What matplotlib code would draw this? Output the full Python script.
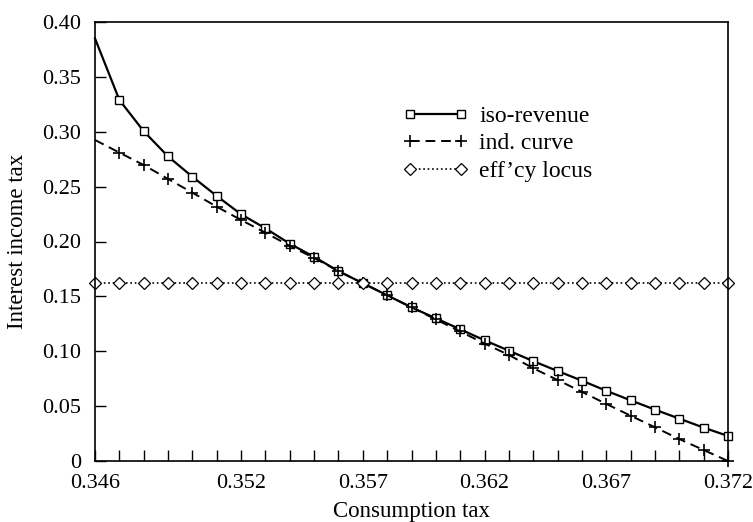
import numpy as np
import matplotlib
matplotlib.use("Agg")
import matplotlib.pyplot as plt

plt.rcParams['font.family'] = ['Liberation Serif', 'DejaVu Serif']

# consumption tax grid (0.346 .. 0.372 step 0.001)
cons_tax = [0.346, 0.347, 0.348, 0.349, 0.350, 0.351, 0.352, 0.353, 0.354,
            0.355, 0.356, 0.357, 0.358, 0.359, 0.360, 0.361, 0.362, 0.363,
            0.364, 0.365, 0.366, 0.367, 0.368, 0.369, 0.370, 0.371, 0.372]

iso_revenue = [0.385, 0.329, 0.3005, 0.2775, 0.259, 0.2415, 0.2248, 0.212, 0.198,
               0.186, 0.173, 0.162, 0.151, 0.140, 0.130, 0.120, 0.110, 0.1005,
               0.091, 0.082, 0.0732, 0.064, 0.0553, 0.0468, 0.0386, 0.0304, 0.0228]

ind_curve = [0.2925, 0.281, 0.2697, 0.257, 0.2445, 0.2317, 0.2196, 0.208, 0.196,
             0.185, 0.173, 0.162, 0.151, 0.140, 0.129, 0.118, 0.107, 0.0966,
             0.0845, 0.0738, 0.063, 0.052, 0.0413, 0.0307, 0.020, 0.010, 0.0]

effcy_locus = [0.162] * len(cons_tax)

x_labels = {0.346: '0.346', 0.352: '0.352', 0.357: '0.357',
            0.362: '0.362', 0.367: '0.367', 0.372: '0.372'}
y_ticks = [0, 0.05, 0.10, 0.15, 0.20, 0.25, 0.30, 0.35, 0.40]
y_labels = ['0', '0.05', '0.10', '0.15', '0.20', '0.25', '0.30', '0.35', '0.40']

fig = plt.figure(figsize=(7.53, 5.22), dpi=100)
ax = fig.add_axes([95 / 753, 1 - 461 / 522, (728 - 95) / 753, (461 - 22) / 522])

ax.plot(cons_tax, iso_revenue, '-', color='black', lw=1.6, marker='s',
        markersize=6, markerfacecolor='white', markeredgewidth=1.0,
        markevery=list(range(1, len(cons_tax))), label='iso-revenue', clip_on=False)
ax.plot(cons_tax, ind_curve, '--', color='black', lw=1.4, marker='+',
        markersize=8, markeredgewidth=1.2, dashes=(5, 3),
        markevery=list(range(1, len(cons_tax))), label='ind. curve', clip_on=False)
ax.plot(cons_tax, effcy_locus, ':', color='black', lw=1.2, marker='D',
        markersize=6.5, markerfacecolor='white', markeredgewidth=0.9,
        label="eff\u2019cy locus", clip_on=False)

ax.set_xlim(0.346, 0.372)
ax.set_ylim(0, 0.40)
ax.set_xticks(cons_tax)
ax.set_xticklabels([x_labels.get(round(v, 3), '') for v in cons_tax])
ax.set_yticks(y_ticks)
ax.set_yticklabels(y_labels)
ax.tick_params(direction='in', length=8, width=1.0, labelsize=16,
               top=False, right=False)
ax.tick_params(axis='x', pad=9)
ax.tick_params(axis='y', pad=10)

for s in ax.spines.values():
    s.set_linewidth(1.2)

ax.set_xlabel('Consumption tax', fontsize=16.5, labelpad=6)
ax.set_ylabel('Interest income tax', fontsize=16.5, labelpad=10)

leg = ax.legend(loc='upper left', bbox_to_anchor=(0.487, 0.81), frameon=False,
                fontsize=17, numpoints=2, handlelength=2.75, handletextpad=0.47,
                labelspacing=0.25, borderpad=0, borderaxespad=0)

fig.savefig('out.png', dpi=100)
